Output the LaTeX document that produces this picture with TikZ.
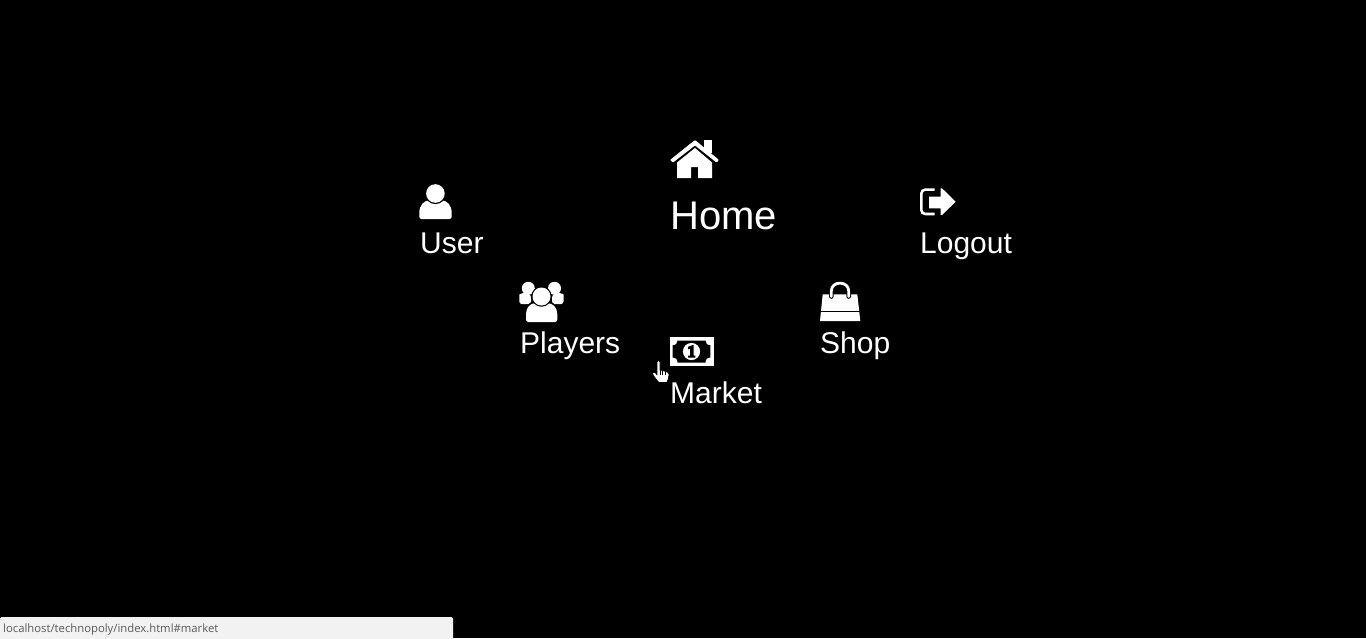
\documentclass[tikz,border=0pt]{standalone}
\usepackage{fontspec}
\setmainfont{Liberation Sans}
\newfontfamily\statusfont{Open Sans}
\tikzset{
  menulabel/.style={text=white,anchor=base west,inner sep=0pt,font=\fontsize{30}{30}\selectfont},
  homelabel/.style={menulabel,font=\fontsize{40}{40}\selectfont},
  statustext/.style={text=statusgrey,anchor=base west,inner sep=0pt,font=\statusfont\fontsize{11.3}{12}\selectfont},
}
\definecolor{statusgrey}{HTML}{5A5A5A}
\definecolor{statusbg}{HTML}{F2F2F2}
\begin{document}
\begin{tikzpicture}[x=1pt,y=-1pt]
\useasboundingbox (0,0) rectangle (1366,638);
\fill[black] (0,0) rectangle (1366,638);

% Home icon
\fill[white] (704,140) rectangle (711.7,153);
\fill[white,rounded corners=0.8pt] (670,160) -- (695,140) -- (719,160) -- (716.5,162.5) -- (695,145.5) -- (673,162.5) -- cycle;
\fill[white] (677,162.5) -- (695,148) -- (712,162.5) -- (712,178) -- (698,178) -- (698,167) -- (691,167) -- (691,178) -- (677,178) -- cycle;

% User icon
\fill[white] (421.5,219) .. controls (420,219) and (419.3,218) .. (419.3,216.5) -- (419.3,213)
  .. controls (419.3,205) and (424,200.5) .. (430,200) -- (441,200)
  .. controls (447,200.5) and (451.7,205) .. (451.7,213) -- (451.7,216.5)
  .. controls (451.7,218) and (451,219) .. (449.5,219) -- cycle;
\fill[black] (435.4,193.5) circle[radius=10.6pt];
\fill[white] (435.4,193.5) circle[radius=9.3pt];

% Players icon
\fill[white] (528.3,288.3) circle[radius=6.5pt];
\fill[white] (554.5,288.3) circle[radius=6.5pt];
\fill[white,rounded corners=2.5pt] (519.3,304) -- (519.3,297) .. controls (519.3,294.5) and (522,293) .. (526,293) -- (531,295) -- (531,304) -- cycle;
\fill[white,rounded corners=2.5pt] (563.5,304) -- (563.5,297) .. controls (563.5,294.5) and (561,293) .. (557,293) -- (552,295) -- (552,304) -- cycle;
\fill[black] (524.5,323) -- (524.5,314) .. controls (524.5,306) and (530,301.5) .. (535,301.5) -- (548,301.5) .. controls (553,301.5) and (558.8,306) .. (558.8,314) -- (558.8,323) -- cycle;
\fill[white] (528.5,322) .. controls (527,322) and (526,321) .. (526,319.5) -- (526,314)
  .. controls (526,307) and (531,303.2) .. (535,303.2) -- (548,303.2)
  .. controls (552,303.2) and (557.3,307) .. (557.3,314) -- (557.3,319.5)
  .. controls (557.3,321) and (556.3,322) .. (554.8,322) -- cycle;
\fill[black] (541.5,296.5) circle[radius=10.2pt];
\fill[white] (541.5,296.5) circle[radius=9pt];

% Market icon
\fill[white] (669.5,337.3) rectangle (713.5,366);
\fill[black] (677.5,340.5) -- (705.5,340.5) .. controls (705.5,343.5) and (707,345) .. (710.3,345.3) -- (710.3,357.5) .. controls (707,357.8) and (705.5,359.3) .. (705.5,362.5) -- (677.5,362.5) .. controls (677.5,359.3) and (676,357.8) .. (672.7,357.5) -- (672.7,345.3) .. controls (676,345) and (677.5,343.5) .. (677.5,340.5) -- cycle;
\fill[white] (691.5,351.5) circle[radius=8.6pt];
\fill[black] (688.2,346.8) -- (692.8,345) -- (693.6,345) -- (693.6,355.6) -- (695.4,355.6) -- (695.4,357.6) -- (688,357.6) -- (688,355.6) -- (690.2,355.6) -- (690.2,348.6) -- (688.2,349.3) -- cycle;

% Shop icon
\fill[white] (822.7,294.3) -- (857.3,294.3) -- (860.3,321) -- (820,321) -- cycle;
\fill[black] (820,311) rectangle (861,312.3);
\draw[black,line width=4.6pt,line cap=round] (831.3,296.5) -- (831.3,291) .. controls (831.3,280.5) and (848.7,280.5) .. (848.7,291) -- (848.7,296.5);
\draw[white,line width=2.8pt,line cap=round] (831.3,296.5) -- (831.3,291) .. controls (831.3,280.5) and (848.7,280.5) .. (848.7,291) -- (848.7,296.5);

% Logout icon
\draw[white,line width=2.6pt,rounded corners=4pt] (934.5,189.6) -- (921.3,189.6) -- (921.3,214) -- (934.5,214);
\fill[black] (927,194.5) rectangle (941,210);
\fill[white] (929,196.5) -- (940.5,196.5) -- (940.5,188.3) -- (942,188.3) -- (955.7,201.7) -- (942,215) -- (940.5,215) -- (940.5,208.3) -- (929,208.3) -- cycle;

% Hand cursor
\draw[black,line width=0.6pt,fill=white,line join=round]
  (657,362) .. controls (657,360) and (660,360) .. (660,362)
  -- (660,370) -- (662.5,370.5) -- (665,371.3) -- (667.8,372.3)
  .. controls (668.8,372.8) and (669,373.5) .. (669,374.5)
  -- (668.4,378.5) -- (666.8,382.5) -- (659,382.5)
  .. controls (657.5,381) and (653,375.5) .. (652.5,373.5)
  .. controls (652.3,372) and (654.5,371.8) .. (655.5,373)
  -- (657,375) -- cycle;
\draw[black,line width=0.5pt] (660,370) -- (660,375) (662.7,370.5) -- (662.7,375) (665.2,371.5) -- (665.2,375);

% Status bar
\fill[statusbg,rounded corners=2pt] (0,640) -- (0,617) -- (453,617) -- (453,640) -- cycle;

% Labels
\node[homelabel] (home) at (670,229) {Home};
\node[menulabel] (user) at (420,253) {User};
\node[menulabel] (logout) at (920,253) {Logout};
\node[menulabel] (players) at (520,353) {Players};
\node[menulabel] (shop) at (820,353) {Shop};
\node[menulabel] (market) at (670,403) {Market};
\node[statustext] (status) at (3,632) {localhost/technopoly/index.html\#market};
\end{tikzpicture}
\end{document}
